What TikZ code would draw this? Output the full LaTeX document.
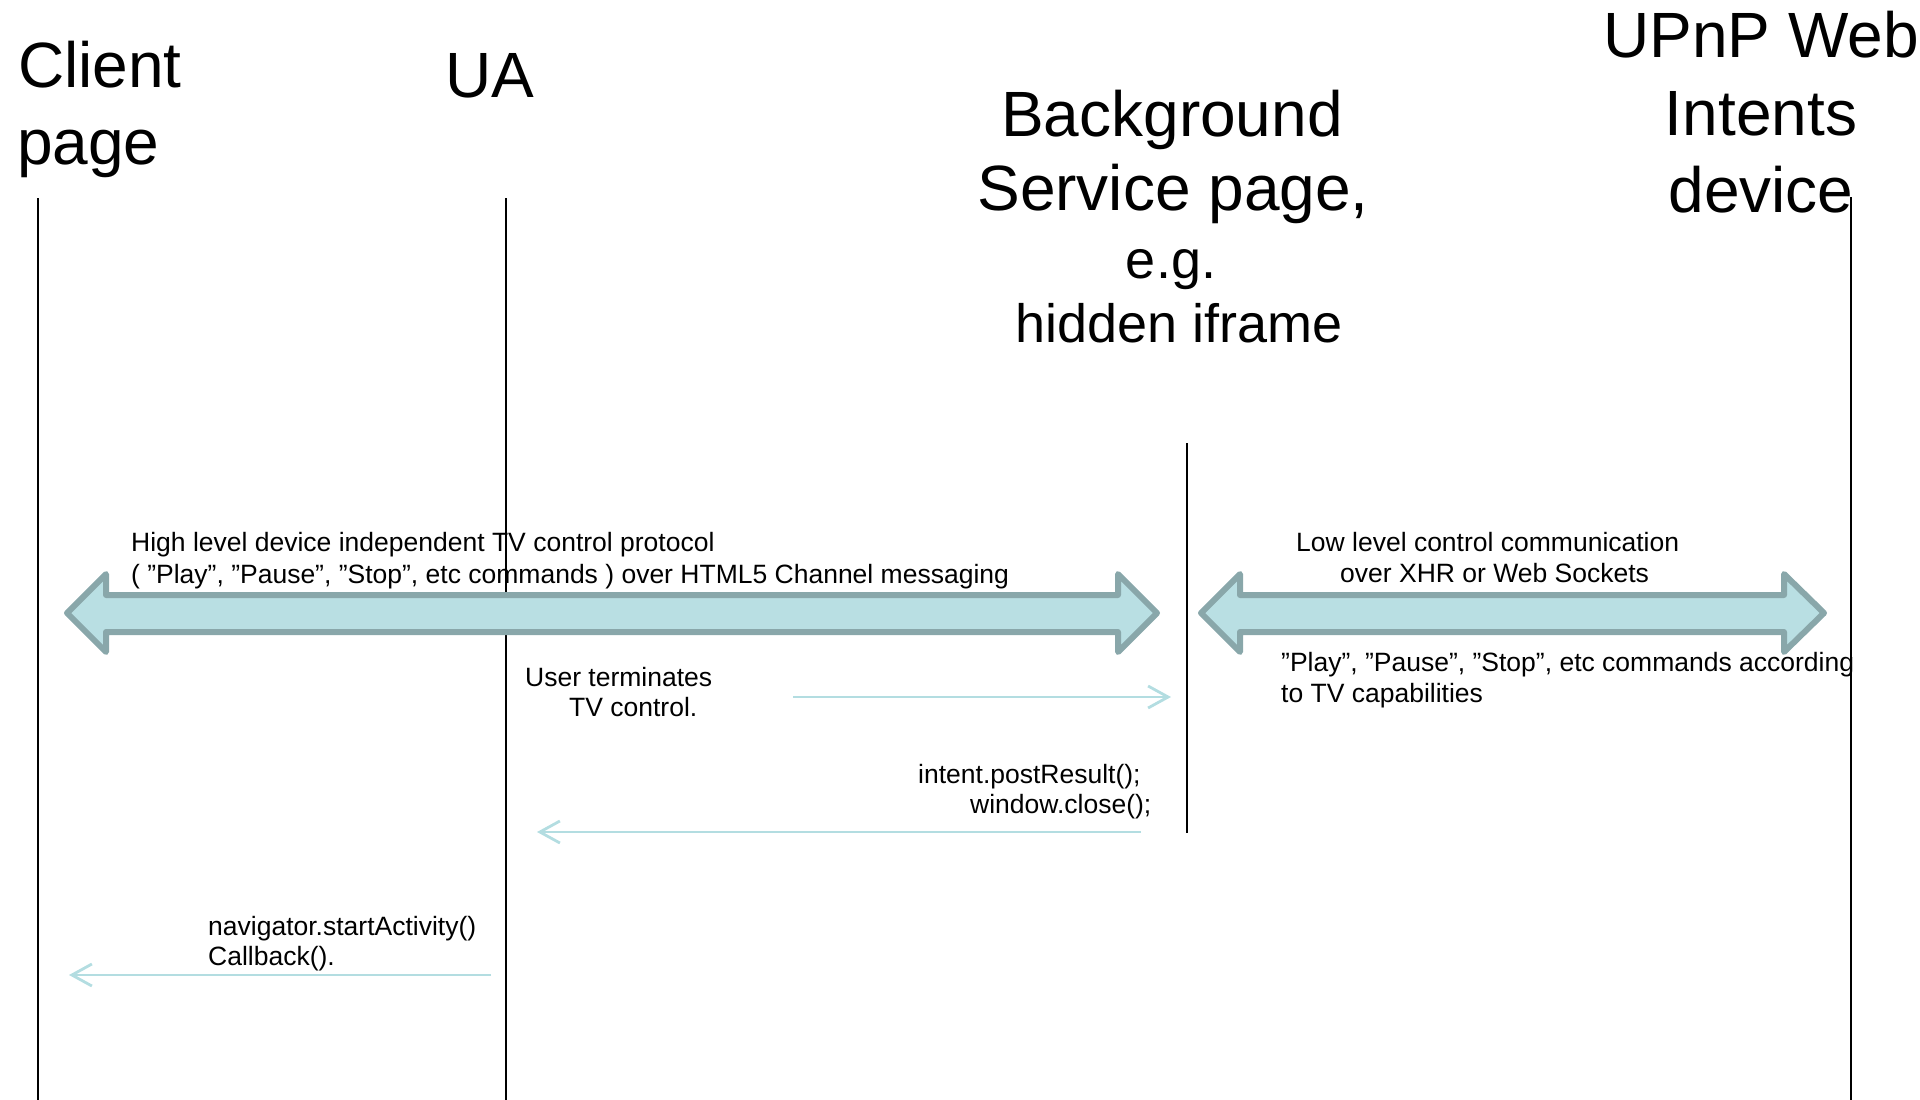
\documentclass[tikz,border=0pt]{standalone}
\usepackage{fontspec}
\setmainfont{Liberation Sans}
\usetikzlibrary{arrows.meta}
\definecolor{arrfill}{HTML}{B9DFE3}
\definecolor{arrdraw}{HTML}{89A7AA}
\definecolor{msgcol}{HTML}{B3DDE1}
\begin{document}
\begin{tikzpicture}[x=1pt,y=-1pt,
  ttl/.style={font=\fontsize{64}{77}\selectfont, inner sep=0pt, anchor=base},
  ttlleft/.style={ttl, anchor=base west},
  subttl/.style={font=\fontsize{54}{65}\selectfont, inner sep=0pt, anchor=base},
  lbl/.style={font=\fontsize{26.5}{32}\selectfont, inner sep=0pt, anchor=base west},
  life/.style={draw=black, line width=1.5pt},
  bigarrow/.style={fill=arrfill, draw=arrdraw, line width=6pt, line join=round},
  msg/.style={draw=msgcol, line width=2.8pt, -{Straight Barb[length=20pt,width=22pt]}}]
\useasboundingbox (0,0) rectangle (1920,1100);

% lifelines
\coordinate (cpT) at (38,198);   \coordinate (cpB) at (38,1100);
\coordinate (uaT) at (506,198);  \coordinate (uaB) at (506,1100);
\coordinate (bgT) at (1187,443); \coordinate (bgB) at (1187,833);
\coordinate (upT) at (1851,197); \coordinate (upB) at (1851,1100);
\draw[life] (cpT) -- (cpB);
\draw[life] (uaT) -- (uaB);
\draw[life] (bgT) -- (bgB);
\draw[life] (upT) -- (upB);

% big double arrows
\path[bigarrow] (67,613) -- (106,574) -- (106,595) -- (1118,595) -- (1118,574)
  -- (1157,613) -- (1118,652) -- (1118,632) -- (106,632) -- (106,652) -- cycle;
\path[bigarrow] (1201,613) -- (1240,574) -- (1240,595) -- (1784,595) -- (1784,574)
  -- (1824,613) -- (1784,652) -- (1784,632) -- (1240,632) -- (1240,652) -- cycle;

% titles
\node[ttlleft] (cp1) at (18,87) {Client};
\node[ttlleft] (cp2) at (17,164) {page};
\node[ttl] (ua) at (490,97) {UA};
\node[ttl] (bg1) at (1172,136) {Background};
\node[ttl] (bg2) at (1173,210) {Service page,};
\node[subttl] (bg3) at (1171,278) {e.g.};
\node[subttl] (bg4) at (1179,342) {hidden iframe};
\node[ttl] (up1) at (1761,57) {UPnP Web};
\node[ttl] (up2) at (1761,135) {Intents};
\node[ttl] (up3) at (1761,212) {device};

% labels
\node[lbl] (hl1) at (131,551) {High level device independent TV control protocol};
\node[lbl] (hl2) at (131,583) {( ”Play”, ”Pause”, ”Stop”, etc commands ) over HTML5 Channel messaging};
\node[lbl] (ll1) at (1296,551) {Low level control communication};
\node[lbl] (ll2) at (1340,582) {over XHR or Web Sockets};
\node[lbl] (pl1) at (1281,671) {”Play”, ”Pause”, ”Stop”, etc commands according};
\node[lbl] (pl2) at (1281,702) {to TV capabilities};
\node[lbl] (ut1) at (525,686) {User terminates};
\node[lbl] (ut2) at (569,716) {TV control.};
\node[lbl] (ip1) at (918,783) {intent.postResult();};
\node[lbl] (ip2) at (970,813) {window.close();};
\node[lbl] (nv1) at (208,935) {navigator.startActivity()};
\node[lbl] (nv2) at (208,965) {Callback().};

% message arrows
\coordinate (m1s) at (793,697);  \coordinate (m1e) at (1171,697);
\coordinate (m2s) at (1141,832); \coordinate (m2e) at (537,832);
\coordinate (m3s) at (491,975);  \coordinate (m3e) at (69,975);
\draw[msg] (m1s) -- (m1e);
\draw[msg] (m2s) -- (m2e);
\draw[msg] (m3s) -- (m3e);
\end{tikzpicture}
\end{document}
